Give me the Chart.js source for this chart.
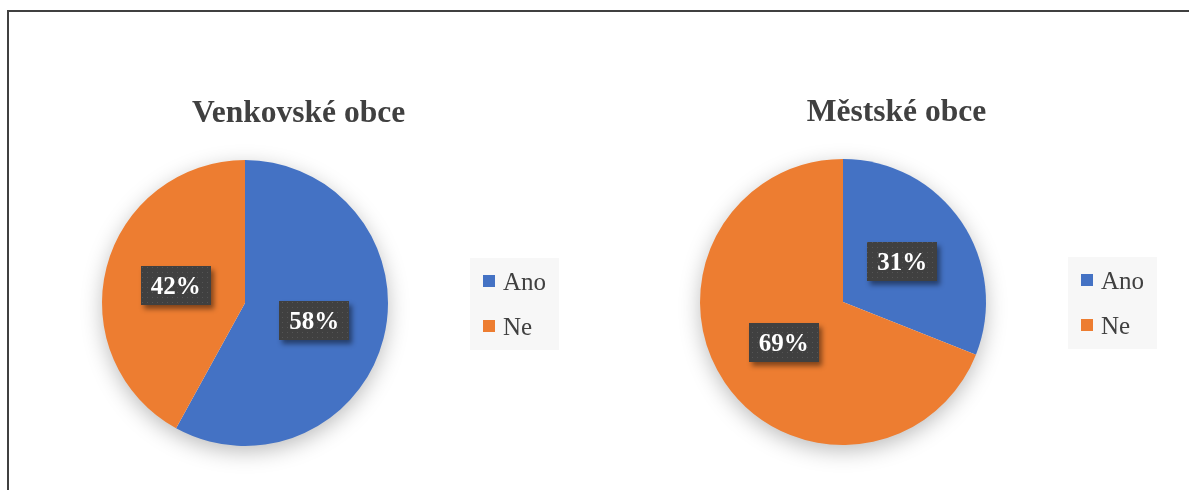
<!DOCTYPE html>
<html lang="cs">
<head>
<meta charset="utf-8">
<title>Venkovské a městské obce</title>
<script src="https://cdn.jsdelivr.net/npm/chart.js@4.4.1/dist/chart.umd.min.js"></script>
<style>
  html, body { margin: 0; padding: 0; background: #fff; overflow: hidden; }
  .page { position: relative; width: 1189px; height: 490px; }
  .frame { position: absolute; left: 7px; top: 10px; width: 1300px; height: 600px; border: 2px solid #404040; box-sizing: border-box; }
  .panel { position: absolute; left: 0; top: 0; width: 1189px; height: 490px; }
</style>
</head>
<body>
<div class="page">
  <div class="frame"></div>
  <div class="panel"><canvas id="venkov-chart"></canvas></div>
  <div class="panel"><canvas id="mesto-chart"></canvas></div>
</div>
<script>
(() => {
  const LABELS = ["Ano", "Ne"];
  const COLORS = ["#4472C4", "#ED7D31"];
  const VENKOV_TITLE = "Venkovské obce";
  const VENKOV_VALUES = [58, 42];
  const MESTO_TITLE = "Městské obce";
  const MESTO_VALUES = [31, 69];

  const SERIF = "'Liberation Serif', 'Times New Roman', serif";
  const TEXT_COLOR = "#404040";

  function dotPattern(ctx) {
    const tile = document.createElement("canvas");
    tile.width = 5;
    tile.height = 5;
    const t = tile.getContext("2d");
    t.fillStyle = "#404040";
    t.fillRect(0, 0, 5, 5);
    t.fillStyle = "#555555";
    t.fillRect(2, 2, 1, 1);
    return ctx.createPattern(tile, "repeat");
  }

  function fmtPct(value) {
    return `${value}%`;
  }

  // shadow under the pie, title, data labels and legend box
  const decor = {
    id: "decor",
    beforeDatasetsDraw(chart) {
      const arc = chart.getDatasetMeta(0).data[0];
      if (!arc) return;
      const { x, y, outerRadius } = arc;
      const ctx = chart.ctx;
      ctx.save();
      ctx.shadowColor = "rgba(0,0,0,0.28)";
      ctx.shadowBlur = 22;
      ctx.shadowOffsetY = 6;
      ctx.fillStyle = "#fff";
      ctx.beginPath();
      ctx.arc(x, y, outerRadius - 1, 0, Math.PI * 2);
      ctx.fill();
      ctx.restore();
    },
    afterDatasetsDraw(chart, args, opts) {
      const meta = chart.getDatasetMeta(0);
      const ctx = chart.ctx;
      const values = chart.data.datasets[0].data;
      const first = meta.data[0];
      const cx = first.x;
      const cy = first.y;

      // data labels
      const pattern = dotPattern(ctx);
      meta.data.forEach((arc, i) => {
        const pos = arc.tooltipPosition();
        const w = 70;
        const h = 39;
        const bx = Math.round(pos.x - w / 2);
        const by = Math.round(pos.y - h / 2);
        ctx.save();
        ctx.shadowColor = "rgba(0,0,0,0.45)";
        ctx.shadowBlur = 5;
        ctx.shadowOffsetX = 3;
        ctx.shadowOffsetY = 4;
        ctx.fillStyle = "#404040";
        ctx.fillRect(bx, by, w, h);
        ctx.restore();
        ctx.save();
        ctx.fillStyle = pattern;
        ctx.fillRect(bx, by, w, h);
        ctx.fillStyle = "#fff";
        ctx.font = `bold 25px ${SERIF}`;
        ctx.textAlign = "center";
        ctx.textBaseline = "alphabetic";
        ctx.fillText(fmtPct(values[i]), pos.x, pos.y + 8.5);
        ctx.restore();
      });

      // title
      ctx.save();
      ctx.fillStyle = TEXT_COLOR;
      ctx.font = `bold 31.5px ${SERIF}`;
      ctx.textAlign = "center";
      ctx.textBaseline = "alphabetic";
      ctx.fillText(opts.title, cx + 53.5, cy - 181);
      ctx.restore();

      // legend
      const lx = cx + 225;
      const ly = cy - 45;
      ctx.save();
      ctx.fillStyle = "#f7f7f7";
      ctx.fillRect(lx, ly, 89, 92);
      ctx.font = `25px ${SERIF}`;
      ctx.textAlign = "left";
      ctx.textBaseline = "alphabetic";
      chart.data.labels.forEach((label, i) => {
        const rowY = cy - 28 + i * 45;
        ctx.fillStyle = COLORS[i];
        ctx.fillRect(cx + 238, rowY, 12, 12);
        ctx.fillStyle = TEXT_COLOR;
        ctx.fillText(label, cx + 258, rowY + 15);
      });
      ctx.restore();
    },
  };

  function pieChart(canvasId, title, values, padding) {
    const canvas = document.getElementById(canvasId);
    return new Chart(canvas, {
      type: "pie",
      data: {
        labels: LABELS,
        datasets: [{
          data: values,
          backgroundColor: COLORS,
          borderWidth: 0,
        }],
      },
      options: {
        responsive: true,
        maintainAspectRatio: false,
        animation: false,
        events: [],
        layout: { padding },
        plugins: {
          legend: { display: false },
          title: { display: false },
          tooltip: { enabled: false },
          decor: { title },
        },
      },
      plugins: [decor],
    });
  }

  pieChart("venkov-chart", VENKOV_TITLE, VENKOV_VALUES, { left: 102, right: 801, top: 160, bottom: 44 });
  pieChart("mesto-chart", MESTO_TITLE, MESTO_VALUES, { left: 700, right: 203, top: 159, bottom: 45 });
})();
</script>
</body>
</html>
